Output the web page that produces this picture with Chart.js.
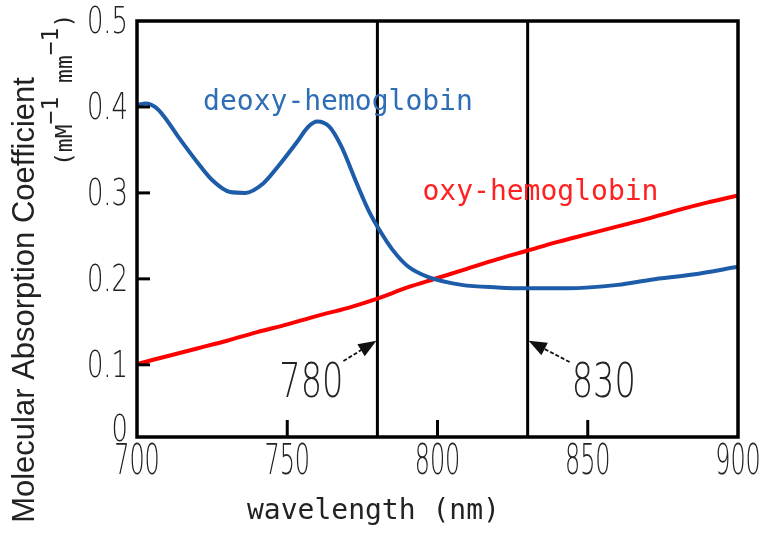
<!DOCTYPE html>
<html>
<head>
<meta charset="utf-8">
<script src="https://cdn.jsdelivr.net/npm/chart.js@4"></script>
<style>
  html, body { margin: 0; padding: 0; background: #fff; }
  #wrap { width: 765px; height: 536px; }
</style>
</head>
<body>
<div id="wrap"><canvas id="absorptionChart" width="765" height="536"></canvas></div>
<script>
// wavelength (nm) and absorption coefficient (mM^-1 mm^-1)
const deoxyWavelength = [700, 703, 706, 709, 714, 720, 725, 731, 736, 742, 747, 753, 757, 760, 764, 768, 773, 777, 781, 785, 790, 797, 808, 820, 830, 843, 860, 871, 885, 900];
const deoxyAbsorption = [0.402, 0.404, 0.400, 0.389, 0.364, 0.336, 0.315, 0.301, 0.300, 0.311, 0.331, 0.358, 0.377, 0.383, 0.377, 0.354, 0.312, 0.280, 0.255, 0.234, 0.215, 0.202, 0.193, 0.190, 0.189, 0.189, 0.193, 0.199, 0.205, 0.214];

const oxyWavelength = [700, 710, 720, 730, 740, 750, 760, 770, 780, 790, 800, 810, 820, 830, 840, 850, 860, 870, 880, 890, 900];
const oxyAbsorption = [0.101, 0.110, 0.119, 0.128, 0.138, 0.147, 0.157, 0.166, 0.177, 0.190, 0.201, 0.212, 0.223, 0.233, 0.243, 0.252, 0.261, 0.270, 0.280, 0.289, 0.297];

// measurement wavelengths marked with vertical lines
const markerWavelengths = [780, 830];

const xTicks = [700, 750, 800, 850, 900];
const yTicks = [0.1, 0.2, 0.3, 0.4, 0.5];
const yBottom = 0.016;

const numberFont = "'DejaVu Sans', sans-serif";
const monoFont = "'DejaVu Sans Mono', 'Liberation Mono', monospace";

function toPoints(xs, ys) {
    return xs.map((x, i) => ({ x: x, y: ys[i] }));
}

// tall, narrow numerals
function drawNarrow(ctx, text, x, y, align, squeeze) {
    ctx.save();
    ctx.translate(x, y);
    ctx.scale(squeeze, 1);
    ctx.textAlign = align;
    ctx.fillText(text, 0, 0);
    ctx.restore();
}

function drawArrow(ctx, x1, y1, x2, y2) {
    const angle = Math.atan2(y2 - y1, x2 - x1);
    const headLen = 18;
    const headHalf = 7;
    const c = Math.cos(angle), s = Math.sin(angle);
    ctx.save();
    ctx.strokeStyle = '#111';
    ctx.lineWidth = 1.8;
    ctx.setLineDash([4, 2]);
    ctx.beginPath();
    ctx.moveTo(x1, y1);
    ctx.lineTo(x2 - c * headLen * 0.8, y2 - s * headLen * 0.8);
    ctx.stroke();
    ctx.setLineDash([]);
    ctx.fillStyle = '#111';
    ctx.beginPath();
    ctx.moveTo(x2, y2);
    ctx.lineTo(x2 - c * headLen + s * headHalf, y2 - s * headLen - c * headHalf);
    ctx.lineTo(x2 - c * headLen - s * headHalf, y2 - s * headLen + c * headHalf);
    ctx.closePath();
    ctx.fill();
    ctx.restore();
}

// frame, inward ticks, tick labels, call-outs and axis titles
const decorations = {
    id: 'decorations',
    afterDatasetsDraw(chart) {
        const ctx = chart.ctx;
        const area = chart.chartArea;
        const xs = chart.scales.x;
        const ys = chart.scales.y;

        ctx.save();
        ctx.strokeStyle = '#000';
        ctx.lineWidth = 3.5;
        ctx.strokeRect(area.left, area.top, area.right - area.left, area.bottom - area.top);

        ctx.lineWidth = 3;
        yTicks.slice(0, -1).forEach(v => {
            const y = ys.getPixelForValue(v);
            ctx.beginPath();
            ctx.moveTo(area.left, y);
            ctx.lineTo(area.left + 13, y);
            ctx.stroke();
        });
        xTicks.slice(1, -1).forEach(v => {
            const x = xs.getPixelForValue(v);
            ctx.beginPath();
            ctx.moveTo(x, area.bottom);
            ctx.lineTo(x, area.bottom - 17);
            ctx.stroke();
        });

        // tick labels
        ctx.fillStyle = '#222';
        ctx.font = '200 42px ' + numberFont;
        ctx.textBaseline = 'alphabetic';
        xs.ticks.forEach(t => {
            drawNarrow(ctx, String(t.value), xs.getPixelForValue(t.value), area.bottom + 37, 'center', 0.57);
        });
        ctx.font = '200 38px ' + numberFont;
        ctx.textBaseline = 'middle';
        ys.ticks.forEach(t => {
            const label = t.value < 0.05 ? '0' : t.value.toFixed(1);
            const y = Math.min(ys.getPixelForValue(t.value) + 2, area.bottom - 6);
            drawNarrow(ctx, label, area.left - 9, y, 'right', 0.68);
        });

        // series names
        ctx.font = '28px ' + monoFont;
        ctx.textBaseline = 'alphabetic';
        ctx.textAlign = 'left';
        ctx.fillStyle = '#2f6db5';
        ctx.fillText('deoxy-hemoglobin', xs.getPixelForValue(722), ys.getPixelForValue(0.396));
        ctx.fillStyle = '#ff2020';
        ctx.fillText('oxy-hemoglobin', xs.getPixelForValue(795), ys.getPixelForValue(0.292));

        // wavelength call-outs
        ctx.font = '200 48px ' + numberFont;
        ctx.fillStyle = '#222';
        const baseY = ys.getPixelForValue(0.0625);
        const tipY = ys.getPixelForValue(0.128);
        const x780 = xs.getPixelForValue(markerWavelengths[0]);
        const x830 = xs.getPixelForValue(markerWavelengths[1]);
        drawNarrow(ctx, String(markerWavelengths[0]), x780 - 34, baseY, 'right', 0.7);
        drawNarrow(ctx, String(markerWavelengths[1]), x830 + 44, baseY, 'left', 0.7);
        drawArrow(ctx, x780 - 34, baseY - 36, x780 - 1, tipY);
        drawArrow(ctx, x830 + 42, baseY - 35, x830 + 1, tipY);

        // x axis title
        ctx.font = '28px ' + monoFont;
        ctx.fillStyle = '#222';
        ctx.textAlign = 'left';
        ctx.fillText('wavelength (nm)', 247, 519);

        // y axis title, rotated
        ctx.save();
        ctx.translate(34, 300);
        ctx.rotate(-Math.PI / 2);
        ctx.textAlign = 'center';
        ctx.font = '31px "Liberation Sans", sans-serif';
        ctx.fillText('Molecular Absorption Coefficient', 0, 0);
        ctx.restore();

        ctx.save();
        ctx.translate(72, 166);
        ctx.rotate(-Math.PI / 2);
        ctx.textAlign = 'left';
        const parts = [
            ['(mM', 0],
            ['\u22121', -14],
            [' mm', 0],
            ['\u22121', -14],
            [')', 0]
        ];
        let u = 0;
        ctx.font = '23px ' + monoFont;
        parts.forEach(([text, shift]) => {
            ctx.fillText(text, u, shift);
            u += ctx.measureText(text).width;
        });
        ctx.restore();

        ctx.restore();
    }
};

const markerDatasets = markerWavelengths.map(w => ({
    data: [{ x: w, y: yBottom }, { x: w, y: 0.5 }],
    borderColor: '#000',
    borderWidth: 3,
    pointRadius: 0,
    tension: 0
}));

const ctx = document.getElementById('absorptionChart').getContext('2d');
const absorptionChart = new Chart(ctx, {
    type: 'line',
    data: {
        datasets: [
            {
                label: 'deoxy-hemoglobin',
                data: toPoints(deoxyWavelength, deoxyAbsorption),
                borderColor: '#1d5ca8',
                borderWidth: 4,
                pointRadius: 0,
                cubicInterpolationMode: 'monotone'
            },
            {
                label: 'oxy-hemoglobin',
                data: toPoints(oxyWavelength, oxyAbsorption),
                borderColor: '#ff0000',
                borderWidth: 4,
                pointRadius: 0,
                cubicInterpolationMode: 'monotone'
            },
            ...markerDatasets
        ]
    },
    options: {
        responsive: false,
        animation: false,
        layout: {
            padding: { left: 0, top: 21, right: 27, bottom: 0 }
        },
        plugins: {
            legend: { display: false },
            tooltip: { enabled: false }
        },
        scales: {
            x: {
                type: 'linear',
                min: 700,
                max: 900,
                afterBuildTicks: scale => { scale.ticks = xTicks.map(v => ({ value: v })); },
                afterFit: scale => { scale.height = 99; },
                grid: { display: false, drawTicks: false },
                border: { display: false },
                ticks: { display: false }
            },
            y: {
                type: 'linear',
                min: yBottom,
                max: 0.5,
                afterBuildTicks: scale => { scale.ticks = [yBottom, ...yTicks].map(v => ({ value: v })); },
                afterFit: scale => { scale.width = 137; },
                grid: { display: false, drawTicks: false },
                border: { display: false },
                ticks: { display: false }
            }
        }
    },
    plugins: [decorations]
});
</script>
</body>
</html>
